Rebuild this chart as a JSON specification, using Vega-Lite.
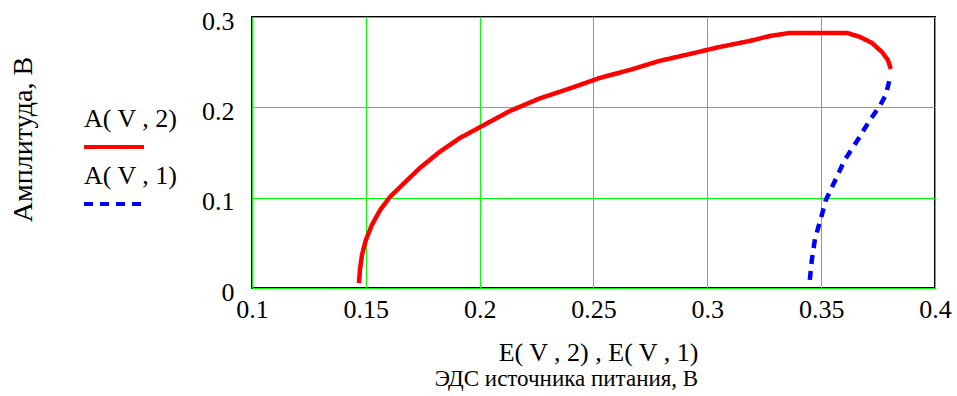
{
  "$schema": "https://vega.github.io/schema/vega-lite/v6.json",
  "width": 683,
  "height": 271,
  "autosize": "none",
  "padding": {"left": 252, "top": 17, "right": 22, "bottom": 108},
  "background": "white",
  "config": {
    "font": "Liberation Serif",
    "view": {"stroke": "black", "strokeWidth": 2}
  },
  "title": {
    "text": "ЭДС источника питания, В",
    "orient": "bottom",
    "anchor": "middle",
    "dx": -27,
    "offset": 3,
    "font": "Liberation Serif",
    "fontSize": 23,
    "fontWeight": "normal",
    "color": "black"
  },
  "data": {
    "values": [
      {"s": "A( V , 2)", "i": 1, "E": 0.147, "A": 0.0055},
      {"s": "A( V , 2)", "i": 2, "E": 0.1474, "A": 0.02},
      {"s": "A( V , 2)", "i": 3, "E": 0.1483, "A": 0.0365},
      {"s": "A( V , 2)", "i": 4, "E": 0.15, "A": 0.053},
      {"s": "A( V , 2)", "i": 5, "E": 0.1527, "A": 0.07},
      {"s": "A( V , 2)", "i": 6, "E": 0.1562, "A": 0.086},
      {"s": "A( V , 2)", "i": 7, "E": 0.1606, "A": 0.1008},
      {"s": "A( V , 2)", "i": 8, "E": 0.1672, "A": 0.117},
      {"s": "A( V , 2)", "i": 9, "E": 0.1738, "A": 0.133},
      {"s": "A( V , 2)", "i": 10, "E": 0.1826, "A": 0.151},
      {"s": "A( V , 2)", "i": 11, "E": 0.1913, "A": 0.166},
      {"s": "A( V , 2)", "i": 12, "E": 0.2001, "A": 0.178},
      {"s": "A( V , 2)", "i": 13, "E": 0.2133, "A": 0.196},
      {"s": "A( V , 2)", "i": 14, "E": 0.2265, "A": 0.21},
      {"s": "A( V , 2)", "i": 15, "E": 0.2397, "A": 0.221},
      {"s": "A( V , 2)", "i": 16, "E": 0.2528, "A": 0.2326},
      {"s": "A( V , 2)", "i": 17, "E": 0.266, "A": 0.2414},
      {"s": "A( V , 2)", "i": 18, "E": 0.279, "A": 0.2514},
      {"s": "A( V , 2)", "i": 19, "E": 0.2924, "A": 0.2591},
      {"s": "A( V , 2)", "i": 20, "E": 0.3055, "A": 0.2669},
      {"s": "A( V , 2)", "i": 21, "E": 0.3187, "A": 0.2735},
      {"s": "A( V , 2)", "i": 22, "E": 0.3275, "A": 0.279},
      {"s": "A( V , 2)", "i": 23, "E": 0.3363, "A": 0.2824},
      {"s": "A( V , 2)", "i": 24, "E": 0.3494, "A": 0.2824},
      {"s": "A( V , 2)", "i": 25, "E": 0.3613, "A": 0.2824},
      {"s": "A( V , 2)", "i": 26, "E": 0.367, "A": 0.278},
      {"s": "A( V , 2)", "i": 27, "E": 0.3723, "A": 0.2713},
      {"s": "A( V , 2)", "i": 28, "E": 0.3767, "A": 0.2613},
      {"s": "A( V , 2)", "i": 29, "E": 0.3793, "A": 0.2525},
      {"s": "A( V , 2)", "i": 30, "E": 0.3806, "A": 0.2425},
      {"s": "A( V , 1)", "i": 1, "E": 0.345, "A": 0.009},
      {"s": "A( V , 1)", "i": 2, "E": 0.3459, "A": 0.031},
      {"s": "A( V , 1)", "i": 3, "E": 0.3472, "A": 0.053},
      {"s": "A( V , 1)", "i": 4, "E": 0.3486, "A": 0.066},
      {"s": "A( V , 1)", "i": 5, "E": 0.3503, "A": 0.081},
      {"s": "A( V , 1)", "i": 6, "E": 0.352, "A": 0.097},
      {"s": "A( V , 1)", "i": 7, "E": 0.3552, "A": 0.114},
      {"s": "A( V , 1)", "i": 8, "E": 0.3604, "A": 0.142},
      {"s": "A( V , 1)", "i": 9, "E": 0.3661, "A": 0.164},
      {"s": "A( V , 1)", "i": 10, "E": 0.3714, "A": 0.186},
      {"s": "A( V , 1)", "i": 11, "E": 0.3758, "A": 0.2016},
      {"s": "A( V , 1)", "i": 12, "E": 0.3784, "A": 0.214},
      {"s": "A( V , 1)", "i": 13, "E": 0.38, "A": 0.23}
    ]
  },
  "mark": {"type": "line", "strokeWidth": 4.5, "clip": true},
  "encoding": {
    "x": {
      "field": "E",
      "type": "quantitative",
      "scale": {"domain": [0.1, 0.4], "nice": false, "zero": false},
      "axis": {
        "values": [0.1, 0.15, 0.2, 0.25, 0.3, 0.35, 0.4],
        "format": "~g",
        "title": "E( V , 2) , E( V , 1)",
        "grid": true,
        "gridColor": "#00ff00",
        "gridWidth": 1,
        "gridOpacity": 1,
        "ticks": false,
        "domain": false,
        "labelFont": "Liberation Serif",
        "labelFontSize": 26,
        "labelColor": "black",
        "labelPadding": 8,
        "labelFlush": false,
        "titleFont": "Liberation Serif",
        "titleFontSize": 26,
        "titleFontWeight": "normal",
        "titleColor": "black",
        "titlePadding": 17,
        "titleX": 346
      }
    },
    "y": {
      "field": "A",
      "type": "quantitative",
      "scale": {"domain": [0, 0.3], "nice": false},
      "axis": {
        "values": [0, 0.1, 0.2, 0.3],
        "format": "~g",
        "title": "Амплитуда, В",
        "grid": true,
        "gridColor": "#00ff00",
        "gridWidth": 1,
        "gridOpacity": 1,
        "ticks": false,
        "domain": false,
        "labelFont": "Liberation Serif",
        "labelFontSize": 26,
        "labelColor": "black",
        "labelPadding": 18,
        "labelOffset": 4,
        "labelFlush": false,
        "titleFont": "Liberation Serif",
        "titleFontSize": 28,
        "titleFontWeight": "normal",
        "titleColor": "black",
        "titlePadding": 164,
        "titleY": 122
      }
    },
    "color": {
      "field": "s",
      "type": "nominal",
      "scale": {"domain": ["A( V , 2)", "A( V , 1)"], "range": ["#ff0000", "#0000ff"]},
      "legend": {
        "title": null,
        "orient": "none",
        "legendX": -170,
        "legendY": 98,
        "symbolType": "stroke",
        "symbolSize": 3600,
        "symbolStrokeWidth": 4,
        "labelFont": "Liberation Serif",
        "labelFontSize": 26,
        "labelColor": "black",
        "rowPadding": 8,
        "encode": {"labels": {"update": {"dx": {"value": -66}, "dy": {"value": -28}}}}
      }
    },
    "strokeDash": {
      "field": "s",
      "type": "nominal",
      "scale": {"domain": ["A( V , 2)", "A( V , 1)"], "range": [[1, 0], [9, 7]]},
      "legend": {
        "title": null,
        "orient": "none",
        "legendX": -170,
        "legendY": 98,
        "symbolType": "stroke",
        "symbolSize": 3600,
        "symbolStrokeWidth": 4,
        "labelFont": "Liberation Serif",
        "labelFontSize": 26,
        "labelColor": "black",
        "rowPadding": 8,
        "encode": {"labels": {"update": {"dx": {"value": -66}, "dy": {"value": -28}}}}
      }
    },
    "order": {"field": "i", "type": "quantitative"}
  }
}
